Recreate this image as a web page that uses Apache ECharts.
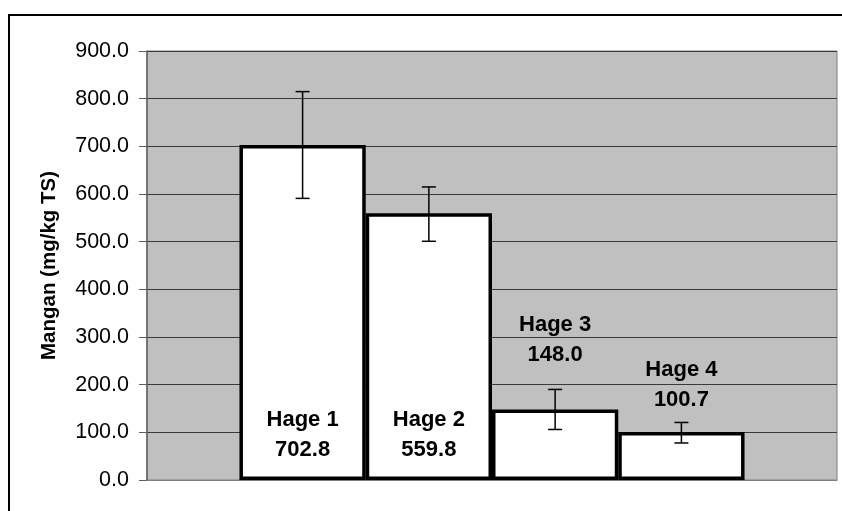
<!DOCTYPE html>
<html>
<head>
<meta charset="utf-8">
<script src="https://cdn.jsdelivr.net/npm/echarts@6/dist/echarts.min.js"></script>
<style>html,body{margin:0;padding:0;background:#fff}#c{width:842px;height:511px}</style>
</head>
<body>
<div id="c"></div>
<script>
var seriesNames = ['Hage 1', 'Hage 2', 'Hage 3', 'Hage 4'];
var values = [702.8, 559.8, 148.0, 100.7];
var errLow = [112, 59, 42, 23];
var errHigh = [112, 55, 42, 20];
var yTicks = [0, 100, 200, 300, 400, 500, 600, 700, 800, 900];

var FONT = '"Liberation Sans", Arial, sans-serif';
var GAP = 0.268;
var chart = echarts.init(document.getElementById('c'));

var labelCfg = [
  { position: 'insideBottom', distance: 15 },
  { position: 'insideBottom', distance: 15 },
  { position: 'top', distance: 40 },
  { position: 'top', distance: 17 }
];

var series = seriesNames.map(function (name, i) {
  return {
    name: name,
    type: 'bar',
    data: [values[i]],
    barGap: 0,
    barCategoryGap: (GAP * 100) + '%',
    itemStyle: { color: '#ffffff', borderColor: '#000000', borderWidth: 3.5 },
    label: {
      show: true,
      position: labelCfg[i].position,
      distance: labelCfg[i].distance,
      formatter: function (p) { return p.seriesName + '\n' + p.value.toFixed(1); },
      fontFamily: FONT, fontWeight: 'bold', fontSize: 22, color: '#000', lineHeight: 30
    },
    z: 2
  };
});

series.push({
  type: 'custom',
  data: values.map(function (v, i) { return [0, v, v - errLow[i], v + errHigh[i], i]; }),
  z: 5,
  renderItem: function (params, api) {
    var i = api.value(4);
    var c = api.coord([api.value(0), api.value(1)]);
    var catW = api.size([1, 0])[0];
    var used = catW * (1 - GAP);
    var bw = used / seriesNames.length;
    var x = c[0] - used / 2 + bw * (i + 0.5);
    var yl = api.coord([0, api.value(2)])[1];
    var yh = api.coord([0, api.value(3)])[1];
    var cap = 7;
    var st = { stroke: '#000', lineWidth: 1.5 };
    return {
      type: 'group',
      children: [
        { type: 'line', shape: { x1: x, y1: yl, x2: x, y2: yh }, style: st },
        { type: 'line', shape: { x1: x - cap, y1: yh, x2: x + cap, y2: yh }, style: st },
        { type: 'line', shape: { x1: x - cap, y1: yl, x2: x + cap, y2: yl }, style: st }
      ]
    };
  }
});

chart.setOption({
  animation: false,
  backgroundColor: '#ffffff',
  graphic: [{
    type: 'rect', shape: { x: 9, y: 15, width: 900, height: 600 },
    style: { fill: 'none', stroke: '#000', lineWidth: 2 }, z: 0
  }],
  grid: {
    left: 147, top: 51, right: 5, bottom: 31,
    show: true, backgroundColor: '#c0c0c0', borderColor: '#808080', borderWidth: 1
  },
  xAxis: {
    type: 'category',
    data: [''],
    axisLine: { show: true, lineStyle: { color: '#808080' } },
    axisTick: { show: false },
    axisLabel: { show: false },
    splitLine: { show: false }
  },
  yAxis: {
    type: 'value',
    min: yTicks[0], max: yTicks[yTicks.length - 1], interval: 100,
    name: 'Mangan (mg/kg TS)',
    nameLocation: 'middle',
    nameGap: 87,
    nameTextStyle: { fontFamily: FONT, fontWeight: 'bold', fontSize: 20.5, color: '#000' },
    axisLine: { show: true, lineStyle: { color: '#606060', width: 1.5 } },
    axisTick: { show: true, length: 8, lineStyle: { color: '#606060' } },
    axisLabel: {
      fontFamily: FONT, fontSize: 21.5, color: '#000', margin: 18,
      formatter: function (v) { return v.toFixed(1); }
    },
    splitLine: { show: true, lineStyle: { color: '#3a3a3a', width: 1 } }
  },
  series: series
});
</script>
</body>
</html>
